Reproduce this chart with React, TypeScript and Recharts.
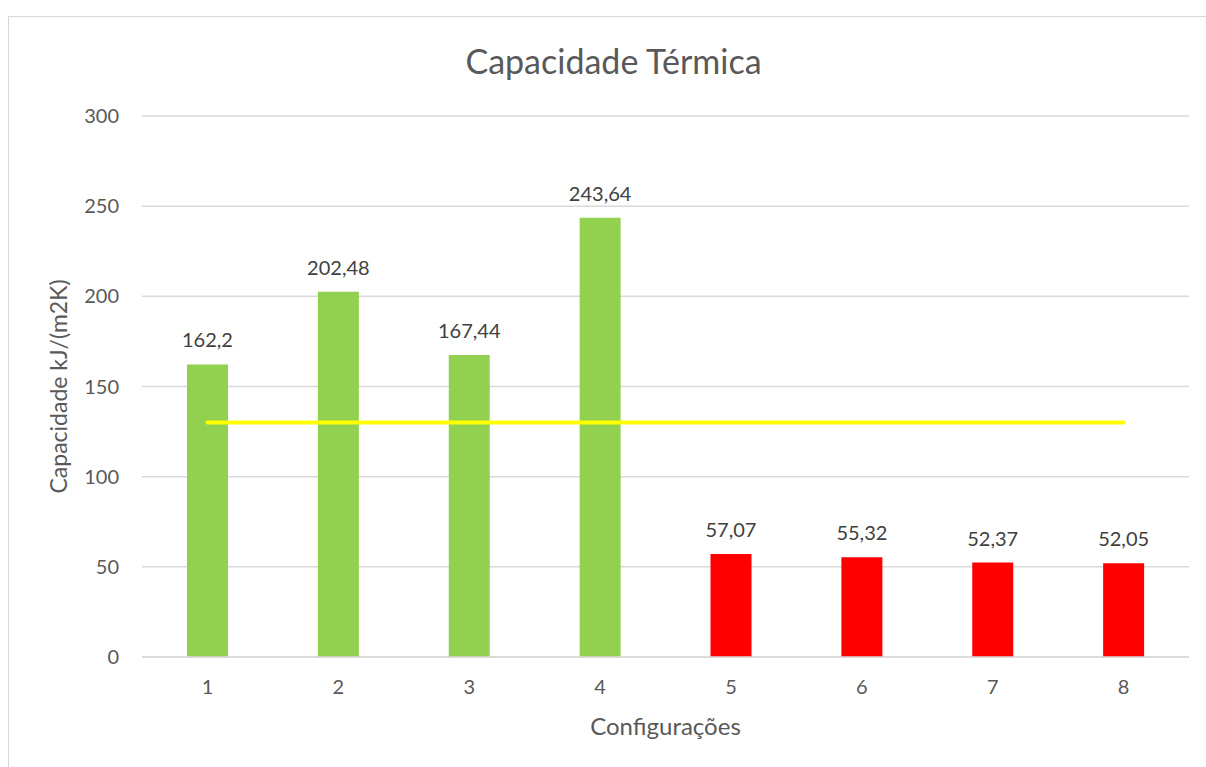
import { ComposedChart, Bar, Line, Cell, XAxis, YAxis, CartesianGrid, LabelList } from 'recharts'

const configuracoes = ['1', '2', '3', '4', '5', '6', '7', '8']
const capacidade = [162.2, 202.48, 167.44, 243.64, 57.07, 55.32, 52.37, 52.05]
const limite = [130, 130, 130, 130, 130, 130, 130, 130]
const yTicks = [0, 50, 100, 150, 200, 250, 300]

const GREEN = '#92D050'
const RED = '#FF0000'
const YELLOW = '#FFFF00'
const GRID = '#D9D9D9'

const chartData = configuracoes.map((name, i) => ({
  name,
  capacidade: capacidade[i],
  limite: limite[i],
}))

const formatValue = (value: unknown) => String(value).replace('.', ',')

export default function App() {
  return (
    <div
      style={{
        position: 'fixed',
        left: 0,
        top: 0,
        width: 1206,
        height: 767,
        overflow: 'hidden',
        background: '#fff',
        fontFamily: 'Lato, sans-serif',
      }}
    >
      <div
        style={{
          position: 'absolute',
          left: 8,
          top: 16,
          width: 1211,
          height: 800,
          border: `1px solid ${GRID}`,
          boxSizing: 'border-box',
        }}
      />
      <div
        style={{
          position: 'absolute',
          left: 8,
          top: 41,
          width: 1211,
          textAlign: 'center',
          fontSize: 34,
          color: '#595959',
          lineHeight: 1.2,
        }}
      >
        Capacidade Térmica
      </div>
      <div style={{ position: 'absolute', left: 0, top: 0 }}>
        <ComposedChart
          width={1206}
          height={767}
          data={chartData}
          margin={{ top: 116, right: 17, bottom: 10, left: 40 }}
        >
          <CartesianGrid vertical={false} stroke={GRID} strokeWidth={1.5} />
          <XAxis
            dataKey="name"
            height={100}
            axisLine={{ stroke: GRID, strokeWidth: 1.5 }}
            tickLine={false}
            tickMargin={17}
            tick={{ fontSize: 20, fill: '#595959' }}
            label={{
              value: 'Configurações',
              position: 'insideBottom',
              offset: 22,
              style: { fontSize: 24, fill: '#595959' },
            }}
          />
          <YAxis
            width={102}
            domain={[0, 300]}
            ticks={yTicks}
            axisLine={false}
            tickLine={false}
            tickMargin={17}
            tick={{ fontSize: 20, fill: '#595959' }}
            label={{
              value: 'Capacidade kJ/(m2K)',
              angle: -90,
              position: 'insideLeft',
              offset: 19,
              style: { fontSize: 23, fill: '#595959', textAnchor: 'middle' },
            }}
          />
          <Bar dataKey="capacidade" barSize={41} isAnimationActive={false}>
            {chartData.map((_, index) => (
              <Cell key={`cell-${index}`} fill={index < 4 ? GREEN : RED} />
            ))}
            <LabelList
              dataKey="capacidade"
              position="top"
              offset={17}
              formatter={formatValue}
              style={{ fontSize: 20, fill: '#404040' }}
            />
          </Bar>
          <Line
            dataKey="limite"
            stroke={YELLOW}
            strokeWidth={4}
            strokeLinecap="round"
            dot={false}
            activeDot={false}
            isAnimationActive={false}
          />
        </ComposedChart>
      </div>
    </div>
  )
}
